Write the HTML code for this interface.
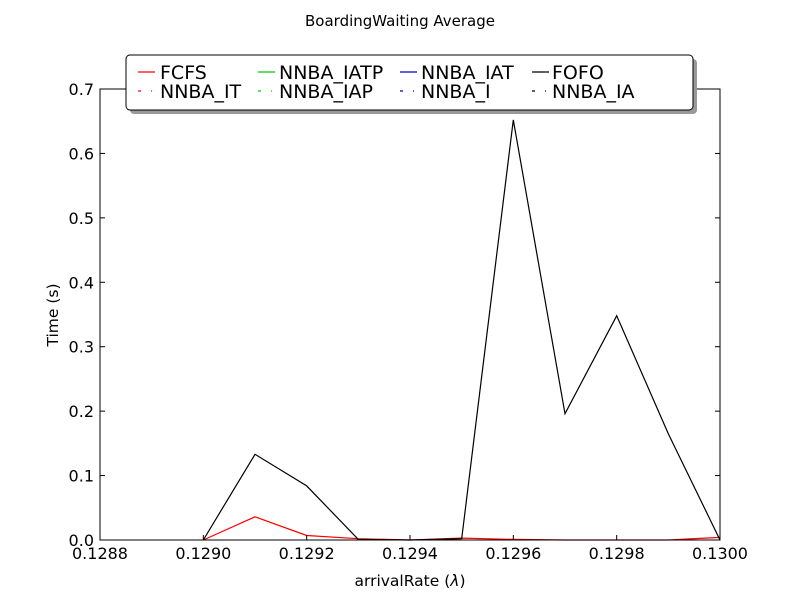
<!DOCTYPE html>
<html><head><meta charset="utf-8"><style>body{margin:0;background:#fff}svg{display:block;font-family:"DejaVu Sans","Liberation Sans",sans-serif}</style></head>
<body>
<svg id="c" width="800" height="600" xmlns="http://www.w3.org/2000/svg">
<rect width="800" height="600" fill="#fff"/>
<text x="400" y="26" text-anchor="middle" font-size="15">BoardingWaiting Average</text>
<g id="plot"></g>
<text x="410" y="586" text-anchor="middle" font-size="15.5">arrivalRate (<tspan font-style="italic">λ</tspan>)</text>
<text transform="translate(58,315) rotate(-90)" text-anchor="middle" font-size="15.5">Time (s)</text>
<g>
<rect x="130" y="59" width="567" height="55" rx="4" fill="#999"/>
<rect x="126" y="55" width="567" height="55" rx="4" fill="#fff" stroke="#000"/>
<g id="leg" font-size="19"></g>
</g>
</svg>
<script>
const xs=[0.1290,0.1291,0.1292,0.1293,0.1294,0.1295,0.1296,0.1297,0.1298,0.1299,0.1300];
const fofo=[0,0.133,0.084,0.001,0,0.002,0.652,0.196,0.348,0.165,0];
const fcfs=[0,0.036,0.007,0.002,0,0.003,0.001,0,0,0,0.004];
const xTicks=[0.1288,0.1290,0.1292,0.1294,0.1296,0.1298,0.1300];
const yTicks=[0,0.1,0.2,0.3,0.4,0.5,0.6,0.7];
const legendNames=["FCFS","NNBA_IATP","NNBA_IAT","FOFO","NNBA_IT","NNBA_IAP","NNBA_I","NNBA_IA"];
const legendColors=["#f00","#0c0","#00c","#000","#f00","#0c0","#00c","#000"];
const NS="http://www.w3.org/2000/svg";
const X0=100,X1=720,Y0=540,Y1=89;
const sx=v=>X0+(v-0.1288)/(0.1300-0.1288)*(X1-X0);
const sy=v=>Y0-v/0.7*(Y0-Y1);
function mk(t,a,p){const e=document.createElementNS(NS,t);for(const k in a)e.setAttribute(k,a[k]);p.appendChild(e);return e;}
const g=document.getElementById('plot');
function series(vals,col,name){const pts=xs.map((x,i)=>sx(x).toFixed(1)+','+sy(vals[i]).toFixed(1)).join(' ');
const l=mk('polyline',{points:pts,fill:'none',stroke:col,'stroke-width':1.2},g);

}
series(fcfs,'#f00','fcfs-line');
series(fofo,'#000','fofo-line');
const fr=mk('rect',{x:X0,y:Y1,width:X1-X0,height:Y0-Y1,fill:'none',stroke:'#000'},g);


xTicks.forEach(v=>{const x=sx(v);
mk('line',{x1:x,x2:x,y1:Y0,y2:Y0-5,stroke:'#000'},g);mk('line',{x1:x,x2:x,y1:Y1,y2:Y1+5,stroke:'#000'},g);
const t=mk('text',{x:x,y:Y0+19,'text-anchor':'middle','font-size':16},g);t.textContent=v.toFixed(4);

});
yTicks.forEach(v=>{const y=sy(v);
mk('line',{x1:X0,x2:X0+5,y1:y,y2:y,stroke:'#000'},g);mk('line',{x1:X1,x2:X1-5,y1:y,y2:y,stroke:'#000'},g);
const t=mk('text',{x:X0-6,y:y+6,'text-anchor':'end','font-size':16},g);t.textContent=v.toFixed(1);

});
const lg=document.getElementById('leg');
const lx=[138,258,400,532],tx=[160,279,421,552],ly=[72,91];
legendNames.forEach((n,i)=>{const c=i%4,r=Math.floor(i/4);
const e=mk('g',{},lg);


mk('line',{x1:lx[c],x2:lx[c]+17,y1:ly[r],y2:ly[r],stroke:legendColors[i],'stroke-width':1.2,'stroke-dasharray':r?'3,10,1,6':''},e);
const t=mk('text',{x:tx[c],y:ly[r]+7},e);t.textContent=n;});
</script>
</body></html>
